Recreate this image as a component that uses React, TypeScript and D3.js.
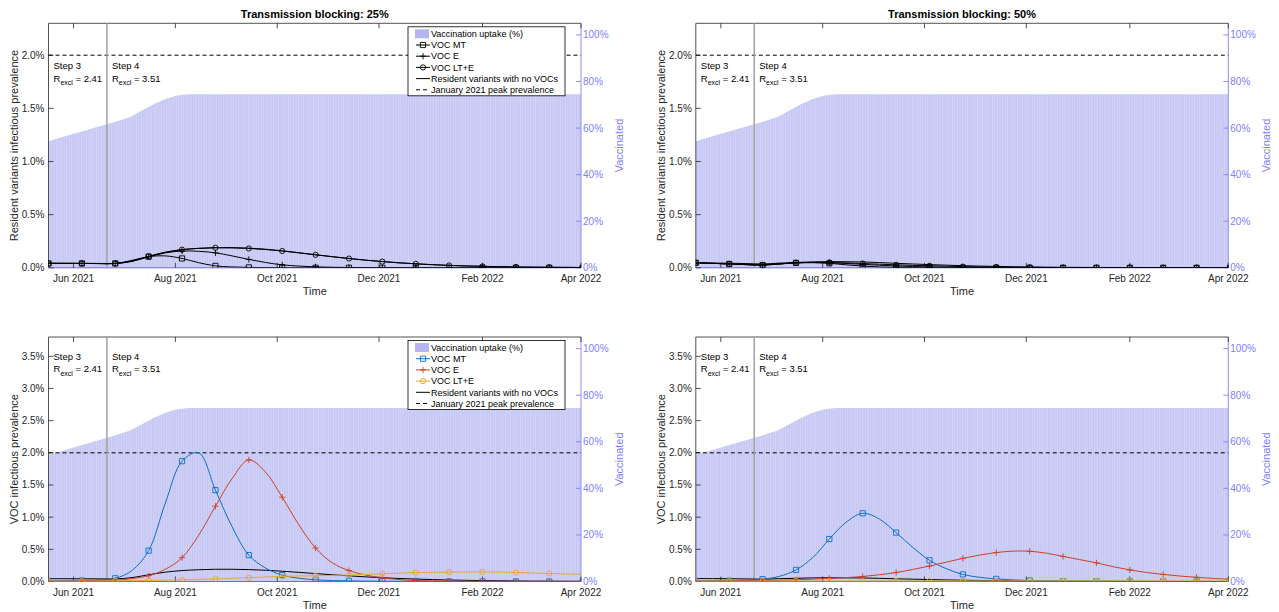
import React from "react";
import * as d3 from "d3";

// x axis: days since 17 May 2021 (step 3)
const START = new Date(2021, 4, 17);
const END = new Date(2022, 3, 1);
const STEP4 = new Date(2021, 5, 21);
const monthTicks = [
  new Date(2021, 5, 1),
  new Date(2021, 7, 1),
  new Date(2021, 9, 1),
  new Date(2021, 11, 1),
  new Date(2022, 1, 1),
  new Date(2022, 3, 1),
];

const days = [0, 10, 20, 30, 40, 50, 60, 70, 80, 90, 100, 110, 120, 130, 140, 150, 160, 170, 180, 190, 200, 210, 220, 230, 240, 250, 260, 270, 280, 290, 300, 310, 320];

// vaccination uptake (%)
const vaccDays = [0, 7, 14, 21, 28, 35, 42, 49, 56, 63, 70, 77, 84, 320];
const vaccPct = [54.3, 55.8, 57.3, 58.8, 60.2, 61.7, 63.2, 64.8, 67.5, 70.2, 72.5, 74.0, 74.5, 74.5];

// resident variants without VOCs
const resident25 = [0.045, 0.043, 0.042, 0.041, 0.040, 0.060, 0.105, 0.145, 0.170, 0.183, 0.190, 0.190, 0.185, 0.175, 0.160, 0.142, 0.123, 0.105, 0.088, 0.072, 0.059, 0.047, 0.038, 0.030, 0.023, 0.018, 0.014, 0.011, 0.008, 0.006, 0.005, 0.004, 0.003];
const resident50 = [0.047, 0.045, 0.043, 0.040, 0.036, 0.044, 0.050, 0.056, 0.058, 0.057, 0.055, 0.049, 0.042, 0.036, 0.030, 0.025, 0.020, 0.016, 0.013, 0.010, 0.008, 0.006, 0.005, 0.004, 0.003, 0.003, 0.002, 0.002, 0.001, 0.001, 0.001, 0.001, 0.001];

// resident prevalence with each VOC, 25% blocking
const resMT25 = [0.041, 0.041, 0.041, 0.040, 0.041, 0.070, 0.105, 0.112, 0.088, 0.048, 0.018, 0.008, 0.004, 0.002, 0.001, 0, 0, 0, 0, 0, 0, 0, 0, 0, 0, 0, 0, 0, 0, 0, 0, 0, 0];
const resE25 = [0.041, 0.041, 0.041, 0.040, 0.041, 0.063, 0.104, 0.140, 0.158, 0.155, 0.141, 0.112, 0.079, 0.050, 0.028, 0.016, 0.009, 0.005, 0.003, 0.002, 0.001, 0.001, 0.001, 0, 0, 0, 0, 0, 0, 0, 0, 0, 0];
const resLTE25 = [0.041, 0.041, 0.041, 0.040, 0.041, 0.063, 0.108, 0.147, 0.171, 0.183, 0.188, 0.187, 0.182, 0.172, 0.158, 0.140, 0.122, 0.104, 0.087, 0.072, 0.058, 0.047, 0.037, 0.029, 0.022, 0.017, 0.013, 0.010, 0.007, 0.006, 0.005, 0.004, 0.003];

// resident prevalence with each VOC, 50% blocking
const resMT50 = [0.047, 0.042, 0.036, 0.030, 0.026, 0.036, 0.046, 0.048, 0.042, 0.028, 0.016, 0.008, 0.004, 0.002, 0.001, 0, 0, 0, 0, 0, 0, 0, 0, 0, 0, 0, 0, 0, 0, 0, 0, 0, 0];
const resE50 = [0.047, 0.042, 0.036, 0.030, 0.026, 0.036, 0.047, 0.050, 0.048, 0.041, 0.032, 0.024, 0.017, 0.012, 0.008, 0.005, 0.003, 0.002, 0.001, 0.001, 0, 0, 0, 0, 0, 0, 0, 0, 0, 0, 0, 0, 0];
const resLTE50 = [0.047, 0.042, 0.036, 0.030, 0.026, 0.036, 0.047, 0.050, 0.050, 0.046, 0.040, 0.034, 0.028, 0.023, 0.019, 0.015, 0.011, 0.009, 0.007, 0.005, 0.004, 0.003, 0.002, 0.002, 0.001, 0.001, 0.001, 0.001, 0, 0, 0, 0, 0];

// VOC prevalence, 25% blocking
const vocMT25 = [0.010, 0.012, 0.015, 0.025, 0.050, 0.170, 0.480, 1.220, 1.870, 2.000, 1.420, 0.850, 0.410, 0.210, 0.100, 0.050, 0.026, 0.015, 0.010, 0.006, 0.004, 0.003, 0.002, 0.001, 0.001, 0.001, 0, 0, 0, 0, 0, 0, 0];
const vocE25 = [0.005, 0.006, 0.008, 0.012, 0.020, 0.045, 0.090, 0.190, 0.370, 0.720, 1.170, 1.600, 1.890, 1.700, 1.310, 0.880, 0.520, 0.290, 0.170, 0.100, 0.057, 0.030, 0.016, 0.010, 0.006, 0.004, 0.003, 0.002, 0.001, 0.001, 0.001, 0.001, 0.001];
const vocLTE25 = [0.003, 0.004, 0.005, 0.007, 0.010, 0.013, 0.016, 0.021, 0.026, 0.033, 0.040, 0.050, 0.060, 0.070, 0.080, 0.085, 0.090, 0.095, 0.100, 0.110, 0.120, 0.130, 0.140, 0.143, 0.146, 0.148, 0.150, 0.147, 0.140, 0.133, 0.125, 0.117, 0.110];

// VOC prevalence, 50% blocking
const vocMT50 = [0.010, 0.010, 0.012, 0.018, 0.036, 0.080, 0.180, 0.370, 0.660, 0.920, 1.060, 0.970, 0.760, 0.530, 0.330, 0.200, 0.110, 0.065, 0.040, 0.025, 0.015, 0.010, 0.006, 0.004, 0.003, 0.002, 0.001, 0.001, 0, 0, 0, 0, 0];
const vocE50 = [0.008, 0.009, 0.010, 0.012, 0.015, 0.020, 0.027, 0.036, 0.048, 0.060, 0.078, 0.105, 0.140, 0.187, 0.240, 0.300, 0.360, 0.410, 0.450, 0.472, 0.470, 0.440, 0.390, 0.340, 0.290, 0.230, 0.180, 0.140, 0.110, 0.085, 0.065, 0.048, 0.035];
const vocLTE50 = [0.004, 0.004, 0.005, 0.005, 0.006, 0.006, 0.007, 0.007, 0.008, 0.008, 0.008, 0.009, 0.009, 0.009, 0.009, 0.009, 0.009, 0.009, 0.009, 0.009, 0.009, 0.009, 0.009, 0.009, 0.008, 0.008, 0.008, 0.008, 0.008, 0.008, 0.007, 0.007, 0.007];

const markerTypes = ["square", "plus", "circle"];
const vocColors = ["#0b6fc8", "#cc4128", "#e6a82c"];
const legendLabels = ["Vaccination uptake (%)", "VOC MT", "VOC E", "VOC LT+E", "Resident variants with no VOCs", "January 2021 peak prevalence"];

const FONT = "'Liberation Sans', Arial, Helvetica, sans-serif";
const W = 532.5;
const H = 244.5;
const AXIS = "#262626";
const RIGHT = "#8080ff";

function markerPath(type, s) {
  if (type === "square") return `M${-s},${-s}h${2 * s}v${2 * s}h${-2 * s}Z`;
  if (type === "plus") return `M${-s - 0.5},0h${2 * s + 1}M0,${-s - 0.5}v${2 * s + 1}`;
  return d3.symbol().type(d3.symbolCircle).size(Math.PI * s * s)();
}

function Panel({ id, left, top, title, yLabel, yMax, yTicks, stepY, lines, resident, colored, legend }) {
  const x = d3.scaleTime().domain([START, END]).range([left, left + W]);
  const y = d3.scaleLinear().domain([0, yMax]).range([top + H, top]);
  const yR = d3.scaleLinear().domain([0, 105]).range([top + H, top]);
  const day = (d) => d3.timeDay.offset(START, d);
  const pxDay = x(day(1)) - x(day(0));

  const vacc = vaccDays.map((d, i) => ({ d, v: vaccPct[i] }));
  const area = d3.area().x((p) => x(day(p.d))).y0(top + H).y1((p) => yR(p.v));
  const line = d3
    .line()
    .x((p) => x(day(p.d)))
    .y((p) => y(p.v))
    .curve(d3.curveCatmullRom.alpha(0.5));
  const pts = (vals) => days.map((d, i) => ({ d, v: vals[i] }));

  const bottom = top + H;
  const right = left + W;
  const fmt = d3.format(".1f");

  const bx = left + 359.5;
  const by = top + 3.5;

  return (
    <g fontFamily={FONT}>
      <defs>
        <clipPath id={`clip${id}`}>
          <rect x={left} y={top} width={W} height={H} />
        </clipPath>
        <pattern id={`stripe${id}`} patternUnits="userSpaceOnUse" x={left} y={0} width={pxDay} height={20}>
          <rect width={pxDay} height={20} fill="#d2d3f7" />
          <rect width={0.45} height={20} fill="#b9baee" />
        </pattern>
      </defs>

      {/* vaccination uptake */}
      <path d={area(vacc)} fill={`url(#stripe${id})`} clipPath={`url(#clip${id})`} />

      {/* axes box */}
      <line x1={left} x2={right} y1={top} y2={top} stroke={AXIS} strokeWidth={0.8} />
      <line x1={left} x2={left} y1={top} y2={bottom} stroke={AXIS} strokeWidth={0.8} />
      <line x1={left} x2={right} y1={bottom} y2={bottom} stroke="#6a6ad8" strokeWidth={1} />
      <line x1={right} x2={right} y1={top} y2={bottom} stroke={RIGHT} strokeWidth={0.9} />

      {/* x ticks */}
      {monthTicks.map((t, i) => (
        <g key={i}>
          <line x1={x(t)} x2={x(t)} y1={top} y2={top + 5} stroke={AXIS} strokeWidth={0.8} />
          <line x1={x(t)} x2={x(t)} y1={bottom} y2={bottom - 5} stroke={AXIS} strokeWidth={0.8} />
          <text x={x(t)} y={bottom + 14} fontSize={10} textAnchor="middle" fill={AXIS}>
            {d3.timeFormat("%b %Y")(t)}
          </text>
        </g>
      ))}
      <text x={left + W / 2} y={bottom + 27} fontSize={11} textAnchor="middle" fill={AXIS}>
        Time
      </text>

      {/* left y ticks */}
      {yTicks.map((v, i) => (
        <g key={i}>
          <line x1={left} x2={left + 5} y1={y(v)} y2={y(v)} stroke={AXIS} strokeWidth={0.8} />
          <text x={left - 4} y={y(v) + 3.5} fontSize={10} textAnchor="end" fill={AXIS}>
            {fmt(v)}%
          </text>
        </g>
      ))}
      <text
        transform={`translate(${left - 30.5},${top + H / 2}) rotate(-90)`}
        fontSize={11}
        textAnchor="middle"
        fill={AXIS}
      >
        {yLabel}
      </text>

      {/* right y ticks */}
      {[0, 20, 40, 60, 80, 100].map((v) => (
        <g key={v}>
          <line x1={right} x2={right - 5} y1={yR(v)} y2={yR(v)} stroke={RIGHT} strokeWidth={0.9} />
          <text x={right + 2} y={yR(v) + 3.5} fontSize={10} fill={RIGHT}>
            {v}%
          </text>
        </g>
      ))}
      <text
        transform={`translate(${right + 42},${top + H / 2}) rotate(-90)`}
        fontSize={11}
        textAnchor="middle"
        fill={RIGHT}
      >
        Vaccinated
      </text>

      {/* title */}
      {title && (
        <text x={left + W / 2} y={top - 5.5} fontSize={11} fontWeight="bold" textAnchor="middle" fill="#000">
          {title}
        </text>
      )}

      {/* January 2021 peak and step 4 */}
      <line x1={left} x2={right} y1={y(2)} y2={y(2)} stroke="#000" strokeWidth={1} strokeDasharray="4,3" />
      <line x1={x(STEP4)} x2={x(STEP4)} y1={top} y2={bottom} stroke="#a2a2a2" strokeWidth={1.5} />

      {[
        { t: START, s: "Step 3", r: "2.41" },
        { t: STEP4, s: "Step 4", r: "3.51" },
      ].map((st, i) => (
        <g key={i} fontSize={9.5} fill="#000">
          <text x={x(st.t) + 5} y={y(stepY[0]) + 3}>
            {st.s}
          </text>
          <text x={x(st.t) + 5} y={y(stepY[1]) + 3}>
            R<tspan fontSize={7} dy={3.5}>excl</tspan>
            <tspan dy={-3.5}> = {st.r}</tspan>
          </text>
        </g>
      ))}

      {/* curves */}
      <g clipPath={`url(#clip${id})`}>
        <path d={line(pts(resident))} fill="none" stroke="#000" strokeWidth={1} />
        {lines.map((vals, k) => {
          const c = colored ? vocColors[k] : "#000";
          return (
            <g key={k}>
              <path d={line(pts(vals))} fill="none" stroke={c} strokeWidth={1} />
              {pts(vals)
                .filter((p) => p.d % 20 === 0)
                .map((p) => (
                  <path
                    key={p.d}
                    transform={`translate(${x(day(p.d))},${y(p.v)})`}
                    d={markerPath(markerTypes[k], 2.6)}
                    fill="none"
                    stroke={c}
                    strokeWidth={0.9}
                  />
                ))}
            </g>
          );
        })}
      </g>

      {/* legend */}
      {legend && (
        <g fontSize={9}>
          <rect x={bx} y={by} width={157} height={69} fill="#fff" stroke="#000" strokeWidth={0.8} />
          {legendLabels.map((lab, i) => {
            const ry = by + 7 + i * 11.2;
            const c = i >= 1 && i <= 3 ? (colored ? vocColors[i - 1] : "#000") : "#000";
            return (
              <g key={i}>
                {i === 0 && <rect x={bx + 7} y={ry - 4.5} width={14} height={9} fill="#b5b6f0" />}
                {i >= 1 && i <= 4 && <line x1={bx + 8} x2={bx + 22} y1={ry} y2={ry} stroke={c} strokeWidth={1} />}
                {i >= 1 && i <= 3 && (
                  <path
                    transform={`translate(${bx + 15},${ry})`}
                    d={markerPath(markerTypes[i - 1], 2.6)}
                    fill="none"
                    stroke={c}
                    strokeWidth={0.9}
                  />
                )}
                {i === 5 && (
                  <line x1={bx + 8} x2={bx + 22} y1={ry} y2={ry} stroke="#000" strokeWidth={1} strokeDasharray="4,3" />
                )}
                <text x={bx + 23} y={ry + 3.2} fill="#000">
                  {lab}
                </text>
              </g>
            );
          })}
        </g>
      )}
    </g>
  );
}

export default function App() {
  const topTicks = [0, 0.5, 1, 1.5, 2];
  const botTicks = [0, 0.5, 1, 1.5, 2, 2.5, 3, 3.5];
  return (
    <svg width={1279} height={612} style={{ position: "absolute", left: 0, top: 0, background: "#fff" }}>
      <rect width={1279} height={612} fill="#fff" />
      <Panel
        id="a"
        left={48.5}
        top={23.3}
        title="Transmission blocking: 25%"
        yLabel="Resident variants infectious prevalence"
        yMax={2.3}
        yTicks={topTicks}
        stepY={[1.9, 1.78]}
        lines={[resMT25, resE25, resLTE25]}
        resident={resident25}
        colored={false}
        legend={true}
      />
      <Panel
        id="b"
        left={695.8}
        top={23.3}
        title="Transmission blocking: 50%"
        yLabel="Resident variants infectious prevalence"
        yMax={2.3}
        yTicks={topTicks}
        stepY={[1.9, 1.78]}
        lines={[resMT50, resE50, resLTE50]}
        resident={resident50}
        colored={false}
        legend={false}
      />
      <Panel
        id="c"
        left={48.5}
        top={337}
        title=""
        yLabel="VOC infectious prevalence"
        yMax={3.8}
        yTicks={botTicks}
        stepY={[3.49, 3.3]}
        lines={[vocMT25, vocE25, vocLTE25]}
        resident={resident25}
        colored={true}
        legend={true}
      />
      <Panel
        id="d"
        left={695.8}
        top={337}
        title=""
        yLabel="VOC infectious prevalence"
        yMax={3.8}
        yTicks={botTicks}
        stepY={[3.49, 3.3]}
        lines={[vocMT50, vocE50, vocLTE50]}
        resident={resident50}
        colored={true}
        legend={false}
      />
    </svg>
  );
}
